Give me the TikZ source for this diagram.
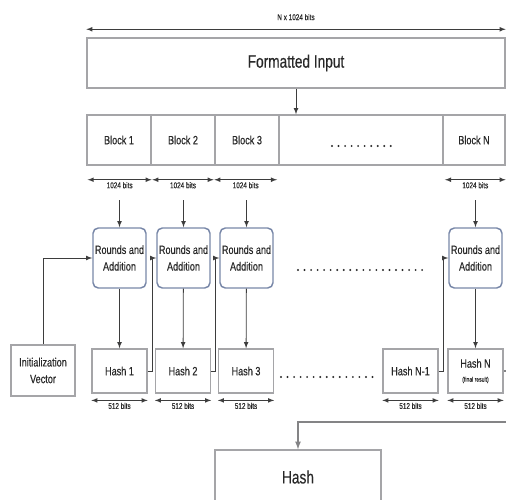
\documentclass[tikz,border=0pt]{standalone}
\usepackage{fontspec}
\setmainfont{Liberation Sans}[FakeStretch=0.76, FakeBold=0.4]
\usetikzlibrary{positioning}
\definecolor{boxline}{RGB}{165,165,168}
\definecolor{raline}{RGB}{120,135,168}
\definecolor{ink}{RGB}{40,40,40}

\begin{document}
\begin{tikzpicture}[>=latex, x=0.75pt, y=-0.75pt,
	box/.style={draw=boxline, line width=1.1pt, text=ink, inner sep=0pt, align=center,
		font=\fontsize{9}{12.5}\selectfont},
	bigbox/.style={box, font=\fontsize{13.5}{16}\selectfont},
	blockbox/.style={box, minimum width=48pt, minimum height=37.5pt},
	rabox/.style={box, draw=raline, rounded corners=4pt, minimum width=39.75pt, minimum height=45pt},
	hashbox/.style={box, minimum width=41.25pt, minimum height=33pt},
	bits/.style={font=\fontsize{6.3}{7}\selectfont, text=ink, inner sep=1.5pt},
	dim/.style={<->, draw=ink!90, line width=0.6pt},
	link/.style={->, draw=ink!90, line width=0.6pt},
	dotrow/.style={draw=ink, line width=1.6pt, line cap=round, dash pattern=on 0pt off 4.9pt}]
	\useasboundingbox (0,0) rectangle (506,499);
	\clip (0,0) rectangle (506,499);

	\node [bigbox, minimum width=313.5pt, minimum height=37.5pt] (fmt) at (296,63) {Formatted Input};
	\draw [dim] ([yshift=6pt]fmt.north west) -- ([yshift=6pt]fmt.north east)
		node [midway, above=5pt, bits] (total) {N x 1024 bits};

	\node [blockbox] (blk1) at (119,140) {Block 1};
	\node [blockbox] (blk2) at (183,140) {Block 2};
	\node [blockbox] (blk3) at (247,140) {Block 3};
	\node [blockbox, minimum width=123pt] (blkdots) at (361,140) {};
	\node [blockbox, minimum width=46.5pt] (blkN) at (474,140) {Block N};
	\draw [dotrow] (332,146) -- (392,146);
	\draw [link] (fmt.south) -- (fmt.south |- blkdots.north);

	\draw [dim] ([xshift=1pt,yshift=-10.5pt]blk1.south west) -- ([yshift=-10.5pt]blk1.south east)
		node [midway, below, bits] (b1) {1024 bits};
	\draw [dim] ([xshift=1.5pt,yshift=-10.5pt]blk2.south west) -- ([xshift=-1.5pt,yshift=-10.5pt]blk2.south east)
		node [midway, below, bits] (b2) {1024 bits};
	\draw [dim] ([yshift=-10.5pt]blk3.south west) -- ([xshift=-2pt,yshift=-10.5pt]blk3.south east)
		node [midway, below, bits] (b3) {1024 bits};
	\draw [dim] ([xshift=2pt,yshift=-10.5pt]blkN.south west) -- ([yshift=-10.5pt]blkN.south east)
		node [midway, below, bits] (bN) {1024 bits};

	\node [rabox] (ra1) at (119.5,258) {Rounds and\\Addition};
	\node [rabox] (ra2) at (183.5,258) {Rounds and\\Addition};
	\node [rabox] (ra3) at (246.5,258) {Rounds and\\Addition};
	\node [rabox] (raN) at (475.5,258) {Rounds and\\Addition};
	\draw [dotrow] (298,270) -- (426,270);

	\draw [link, shorten <=7pt] (ra1.north |- b1.south) -- (ra1.north);
	\draw [link, shorten <=7pt] (ra2.north |- b2.south) -- (ra2.north);
	\draw [link, shorten <=7pt] (ra3.north |- b3.south) -- (ra3.north);
	\draw [link, shorten <=7pt] (raN.north |- bN.south) -- (raN.north);

	\node [box, minimum width=48pt, minimum height=38.25pt] (iv) at (43,370.5) {Initialization\\Vector};
	\node [hashbox] (h1) at (119.5,371) {Hash 1};
	\node [hashbox] (h2) at (183,371) {Hash 2};
	\node [hashbox] (h3) at (246,371) {Hash 3};
	\node [hashbox] (hN1) at (410.5,371) {Hash N-1};
	\node [hashbox] (hN) at (475.5,371) {Hash N\\[-2pt]{\fontsize{5}{6}\selectfont (final result)}};
	\draw [dotrow] (281,377) -- (373,377);

	\draw [link] (ra1) -- (h1);
	\draw [link] (ra2) -- (h2);
	\draw [link] (ra3) -- (h3);
	\draw [link] (raN) -- (hN);

	\draw [link] (iv.north) |- (ra1.west);
	\draw [link] (h1.east) -- ++(5,0) |- (ra2.west);
	\draw [link] (h2.east) -- ++(4,0) |- (ra3.west);
	\draw [link] (hN1.east) -- ++(5,0) |- (raN.west);

	\draw [dim] ([yshift=-5pt]h1.south west) -- ([yshift=-5pt]h1.south east)
		node [midway, below, bits] (s1) {512 bits};
	\draw [dim] ([yshift=-5pt]h2.south west) -- ([yshift=-5pt]h2.south east)
		node [midway, below, bits] (s2) {512 bits};
	\draw [dim] ([yshift=-5pt]h3.south west) -- ([yshift=-5pt]h3.south east)
		node [midway, below, bits] (s3) {512 bits};
	\draw [dim] ([yshift=-5pt]hN1.south west) -- ([yshift=-5pt]hN1.south east)
		node [midway, below, bits] (sN1) {512 bits};
	\draw [dim] ([yshift=-5pt]hN.south west) -- ([yshift=-5pt]hN.south east)
		node [midway, below, bits] (sN) {512 bits};

	\node [bigbox, minimum width=124.5pt, minimum height=40.5pt] (hash) at (298,477) {Hash};
	\coordinate (turn) at (516,422);
	\draw [link, line width=1pt, draw=boxline!80!black] (hN.east) -| (turn) -| (hash.north);
\end{tikzpicture}
\end{document}
